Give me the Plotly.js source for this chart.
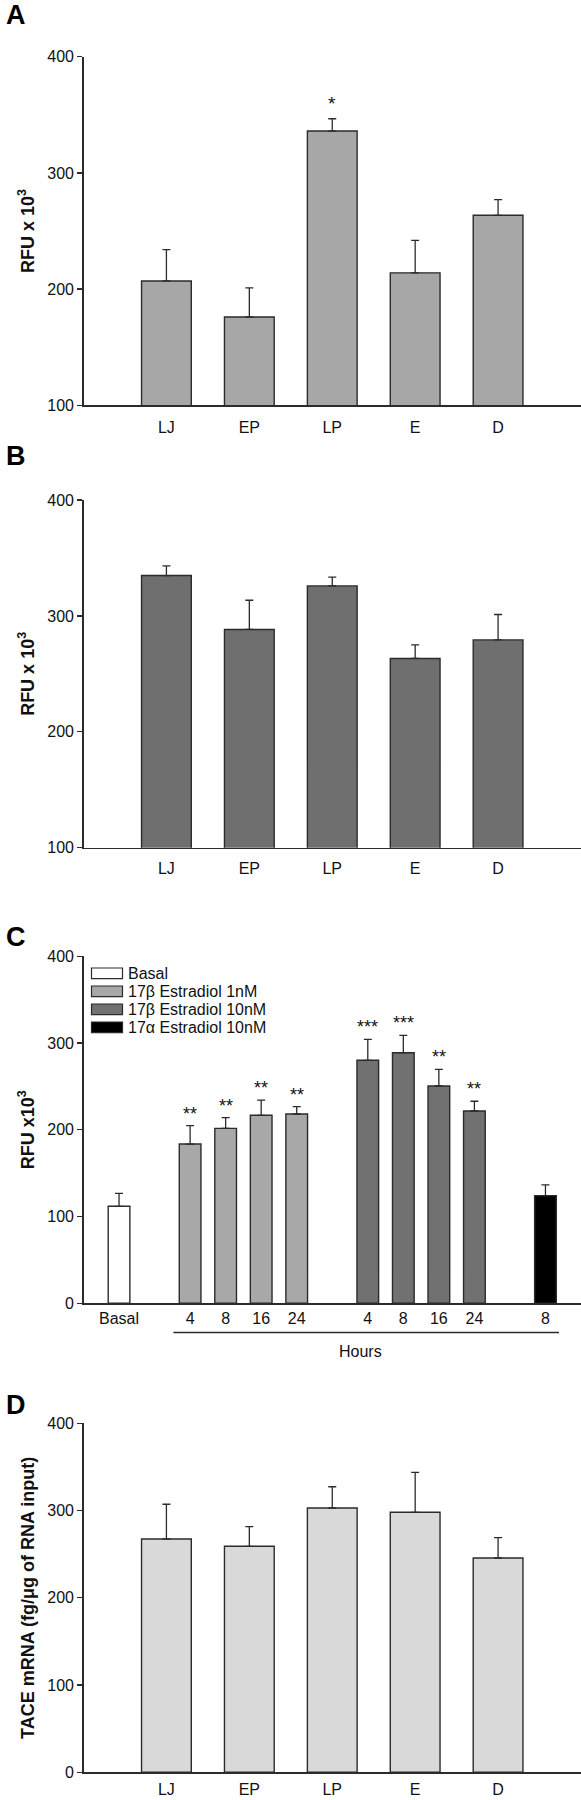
<!DOCTYPE html>
<html><head><meta charset="utf-8">
<script src="https://cdn.plot.ly/plotly-3.0.1.min.js"></script>
<style>body{margin:0;background:#fff}#chart{width:581px;height:1800px}</style>
</head><body><div id="chart"></div>
<script>
// ---------- data ----------
const phases = ['LJ', 'EP', 'LP', 'E', 'D'];
const aValues = [207, 176, 336, 214, 263.5];
const aSem    = [27, 25, 10.6, 28, 13.5];
const aSig    = ['', '', '*', '', ''];
const bValues = [334.8, 288.3, 325.9, 263.3, 279.3];
const bSem    = [8.3, 25.2, 7.5, 11.7, 21.9];
const dValues = [267.4, 259, 302.9, 298, 245.6];
const dSem    = [39.8, 22.5, 24.4, 45.8, 23.3];

const cGroups = ['Basal', '17β Estradiol 1nM', '17β Estradiol 10nM', '17α Estradiol 10nM'];
const cHours  = [['Basal'], ['4', '8', '16', '24'], ['4', '8', '16', '24'], ['8']];
const cValues = [[111.8], [183.6, 201.7, 216.7, 218.2], [280.1, 288.9, 250.5, 221.7], [124.1]];
const cSem    = [[15], [21.1, 12.3, 17.6, 8.4], [24.2, 20, 19.2, 11.2], [12.3]];
const cSig    = [[''], ['**', '**', '**', '**'], ['***', '***', '**', '**'], ['']];

const yTicksRFU  = [100, 200, 300, 400];
const yTicksC    = [0, 100, 200, 300, 400];

// ---------- styling ----------
const W = 581, H = 1800;
const FONT = 'Arial, "Liberation Sans", sans-serif';
const INK = '#2b2b2b';
const py = v => 1 - v / H;          // top-pixel -> paper y
const xLeft = 83.5 / W;
const colA = '#a7a7a7', colB = '#6f6f6f', colD = '#d9d9d9';
const cColors = ['#ffffff', '#a8a8a8', '#717171', '#000000'];

function errY(sem) {
  return {type: 'data', symmetric: false, array: sem, arrayminus: sem.map(() => 0),
          color: INK, thickness: 1.3, width: 4};
}
function barTrace(x, y, sem, color, xa, ya, name, width) {
  return {type: 'bar', x: x, y: y, name: name, width: width, xaxis: xa, yaxis: ya,
          marker: {color: color, line: {color: INK, width: 1.4}},
          error_y: errY(sem), showlegend: false, hoverinfo: 'x+y'};
}

// C slot positions: groups separated by one empty slot
const cSlots = [];
let s = 0;
cHours.forEach(g => { cSlots.push(g.map((_, i) => s + i)); s += g.length + 1; });

const traces = [
  barTrace(phases, aValues, aSem, colA, 'x', 'y', 'A', 0.6),
  barTrace(phases, bValues, bSem, colB, 'x2', 'y2', 'B', 0.6),
  barTrace(phases, dValues, dSem, colD, 'x4', 'y4', 'D', 0.6)
];
cGroups.forEach((g, i) => traces.push(barTrace(cSlots[i], cValues[i], cSem[i], cColors[i], 'x3', 'y3', g, 0.61)));

function xAxis(anchor, extra) {
  return Object.assign({domain: [xLeft, 1], anchor: anchor, showline: true, linecolor: INK, linewidth: 1.3,
    ticks: '', showgrid: false, zeroline: false, fixedrange: true,
    tickfont: {family: FONT, size: 16, color: '#111'}}, extra);
}
function yAxis(anchor, top, bottom, range, ticks, title, extra) {
  return Object.assign({domain: [py(bottom), py(top)], anchor: anchor, range: range, tickvals: ticks,
    showline: true, linecolor: INK, linewidth: 1.3, ticks: 'outside', ticklen: 5, tickwidth: 1.3, tickcolor: INK,
    showgrid: false, zeroline: false, fixedrange: true,
    tickfont: {family: FONT, size: 16, color: '#111'},
    title: {text: title, font: {family: FONT, size: 18, color: '#111'}, standoff: 8}}, extra);
}

const annotations = [];
// panel letters
[['A', 15], ['B', 456], ['C', 937], ['D', 1405]].forEach(([t, y]) => annotations.push({
  text: '<b>' + t + '</b>', xref: 'paper', yref: 'paper', x: 4 / W, y: py(y), xanchor: 'left', yanchor: 'middle',
  showarrow: false, font: {family: FONT, size: 27, color: '#000'}}));
// significance stars
aSig.forEach((t, i) => { if (t) annotations.push({text: t, x: phases[i], y: aValues[i] + aSem[i], xref: 'x', yref: 'y',
  yanchor: 'bottom', yshift: 3, showarrow: false, font: {family: FONT, size: 19, color: '#111'}}); });
cSig.forEach((g, gi) => g.forEach((t, i) => { if (t) annotations.push({text: t, x: cSlots[gi][i], y: cValues[gi][i] + cSem[gi][i],
  xref: 'x3', yref: 'y3', yanchor: 'bottom', yshift: 0, showarrow: false, font: {family: FONT, size: 18, color: '#111'}}); }));
// Hours label
annotations.push({text: 'Hours', xref: 'x3', yref: 'paper', x: 6.8, y: py(1351), yanchor: 'middle',
  showarrow: false, font: {family: FONT, size: 16, color: '#111'}});

const shapes = [];
// hours bracket line
shapes.push({type: 'line', xref: 'x3', yref: 'paper', x0: 1.53, x1: 12.38, y0: py(1332.5), y1: py(1332.5),
  line: {color: INK, width: 1.3}});
// manual legend for panel C
const legRows = [973.3, 991.3, 1009.3, 1027.3];
cGroups.forEach((g, i) => {
  shapes.push({type: 'rect', xref: 'paper', yref: 'paper', x0: 91.5 / W, x1: 122.5 / W,
    y0: py(legRows[i] + 5.3), y1: py(legRows[i] - 5.3), fillcolor: cColors[i], line: {color: INK, width: 1.2}});
  annotations.push({text: g, xref: 'paper', yref: 'paper', x: 126 / W, y: py(legRows[i]), xanchor: 'left',
    yanchor: 'middle', showarrow: false, font: {family: FONT, size: 16, color: '#111'}});
});

const layout = {
  width: W, height: H, margin: {l: 0, r: 0, t: 0, b: 0},
  paper_bgcolor: '#fff', plot_bgcolor: '#fff', showlegend: false, barmode: 'overlay',
  xaxis:  xAxis('y',  {range: [-1, 5], ticklabelstandoff: 7}),
  yaxis:  yAxis('x',  56.7, 405.3, [100, 400], yTicksRFU, '<b>RFU x 10<sup>3</sup></b>'),
  xaxis2: xAxis('y2', {range: [-1, 5], ticklabelstandoff: 6}),
  yaxis2: yAxis('x2', 500, 847.7, [100, 400], yTicksRFU, '<b>RFU x 10<sup>3</sup></b>'),
  xaxis3: xAxis('y3', {range: [-1, 13], type: 'linear', tickvals: cSlots.flat(), ticktext: cHours.flat(), ticklabelstandoff: 0}),
  yaxis3: yAxis('x3', 956.3, 1303.3, [0, 400], yTicksC, '<b>RFU x10<sup>3</sup></b>'),
  xaxis4: xAxis('y4', {range: [-1, 5], ticklabelstandoff: 2}),
  yaxis4: yAxis('x4', 1423.3, 1772.3, [0, 400], yTicksC, '<b>TACE mRNA (fg/μg of RNA input)</b>'),
  annotations: annotations, shapes: shapes
};

Plotly.newPlot('chart', traces, layout, {staticPlot: true, displayModeBar: false});
</script></body></html>
